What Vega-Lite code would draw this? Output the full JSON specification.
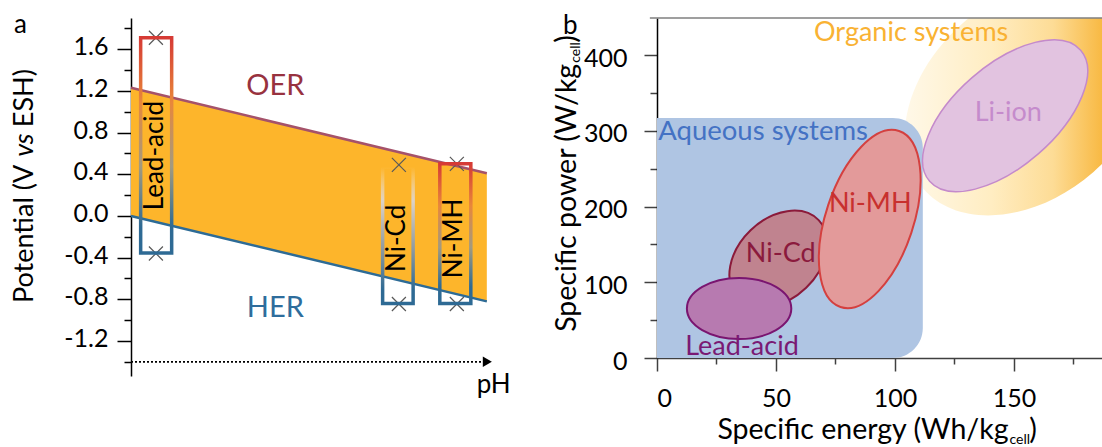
{
  "$schema": "https://vega.github.io/schema/vega-lite/v6.json",
  "padding": {"left": 11, "top": 11, "right": 0, "bottom": 0},
  "bounds": "flush",
  "spacing": 160,
  "resolve": {"scale": {"color": "independent"}},
  "config": {
    "font": "Lato",
    "view": {"stroke": null},
    "axis": {"grid": false, "labelFont": "Lato", "labelFontSize": 25, "labelColor": "#000", "domainColor": "#000", "tickColor": "#000", "domainWidth": 1.5, "tickWidth": 1.5}
  },
  "datasets": {
    "a_band": [{"x": 0, "y": 1.23, "y2": 0}, {"x": 14, "y": 0.41, "y2": -0.82}],
    "a_oer": [{"x": 0, "y": 1.23}, {"x": 14, "y": 0.41}],
    "a_her": [{"x": 0, "y": 0}, {"x": 14, "y": -0.82}],
    "a_marks": [{"x": 0.98, "y": 1.71}, {"x": 0.98, "y": -0.36}, {"x": 10.54, "y": 0.49}, {"x": 10.54, "y": -0.845}, {"x": 12.82, "y": 0.5}, {"x": 12.82, "y": -0.845}],
    "a_boxes": [{"name": "Lead-acid", "x": 0.38, "x2": 1.6, "y": 1.71, "y2": -0.355}, {"name": "Ni-Cd", "x": 9.9, "x2": 11.1, "y": 0.47, "y2": -0.84}, {"name": "Ni-MH", "x": 12.15, "x2": 13.37, "y": 0.5, "y2": -0.84}],
    "a_boxlabels": [{"label": "Lead-acid", "x": 0.95, "y": 0.58}, {"label": "Ni-Cd", "x": 10.45, "y": -0.215}, {"label": "Ni-MH", "x": 12.72, "y": -0.215}],
    "a_reactions": [{"label": "OER", "x": 5.68, "y": 1.243}, {"label": "HER", "x": 5.68, "y": -0.88}],
    "a_axisline": [{"x": 0, "x2": 13.85, "y": -1.4}],
    "a_arrowhead": [{"x": 14.02, "y": -1.4}],
    "a_texts": [{"label": "a", "x": -4.35, "y": 1.833}, {"label": "pH", "x": 14.27, "y": -1.62}],
    "a_title": [{"label": "Potential (V", "part": "start", "x": -3.85, "y": -0.835}, {"label": "vs", "part": "mid", "x": -3.85, "y": 0.68}, {"label": "ESH)", "part": "end", "x": -3.85, "y": 1.41}],
    "b_aq": [{"x": 0, "x2": 111.7, "y": 0, "y2": 316.8}],
    "b_ellipses": [{"name": "Organic systems", "x": 156, "y": 344}, {"name": "Li-ion", "x": 146.3, "y": 319.9}, {"name": "Ni-MH", "x": 89.4, "y": 183.5}, {"name": "Ni-Cd", "x": 51.0, "y": 130.7}, {"name": "Lead-acid", "x": 34.5, "y": 65.3}],
    "b_labels": [{"label": "Organic systems", "x": 106.8, "y": 429.4}, {"label": "Li-ion", "x": 147.6, "y": 324.2}, {"label": "Ni-MH", "x": 89.6, "y": 203.3}, {"label": "Ni-Cd", "x": 52.0, "y": 137.3}, {"label": "Lead-acid", "x": 35.7, "y": 14.9}],
    "b_aqlabel": [{"label": "Aqueous systems", "x": 0.5, "y": 297.8}],
    "b_frame": [{"x": -3, "x2": 187, "y": 449}],
    "b_xtitle": [{"label": "Specific energy (Wh/kg", "part": "main", "x": 147.7, "y": -106.9}, {"label": "cell", "part": "sub", "x": 147.7, "y": -106.9}, {"label": ")", "part": "close", "x": 156.4, "y": -106.9}],
    "b_ytitle": [{"label": "Specific power (W/kg", "part": "main", "x": -33.9, "y": 388.5}, {"label": "cell", "part": "sub", "x": -33.9, "y": 388.5}, {"label": ")", "part": "close", "x": -33.9, "y": 416.2}],
    "b_tag": [{"label": "b", "x": -36.4, "y": 438.7}]
  },
  "hconcat": [
    {
      "width": 366,
      "height": 358,
      "encoding": {
        "x": {"field": "x", "type": "quantitative", "scale": {"domain": [0, 14.4], "nice": false, "zero": false}, "axis": null},
        "y": {"field": "y", "type": "quantitative", "scale": {"domain": [-1.536, 1.9], "nice": false, "zero": false},
          "axis": {"title": null, "values": [-1.4, -1.2, -1.0, -0.8, -0.6, -0.4, -0.2, 0, 0.2, 0.4, 0.6, 0.8, 1.0, 1.2, 1.4, 1.6, 1.8],
            "labelExpr": "(round(datum.value*10) % 4 == 0 && datum.value > -1.3) ? ((datum.value < -0.01 ? '-' : '') + format(abs(datum.value), '.1f')) : ''",
            "tickSize": {"condition": {"test": "round(datum.value*10) % 4 == 0", "value": 14}, "value": 7},
            "labelPadding": 9, "labelOffset": -2.5, "labelBaseline": "middle"}}
      },
      "layer": [
        {"data": {"name": "a_band"}, "mark": {"type": "area", "fill": "#FDB52B", "opacity": 1}, "encoding": {"y2": {"field": "y2"}}},
        {"data": {"name": "a_oer"}, "mark": {"type": "line", "stroke": "#A5526A", "strokeWidth": 2.5}, "encoding": {}},
        {"data": {"name": "a_her"}, "mark": {"type": "line", "stroke": "#2D6B96", "strokeWidth": 2.5}, "encoding": {}},
        {"data": {"name": "a_marks"}, "mark": {"type": "point", "shape": "M -1 -1 L 1 1 M 1 -1 L -1 1", "size": 196, "filled": false, "stroke": "#595959", "strokeWidth": 1.2, "opacity": 1}},
        {"data": {"name": "a_boxes"}, "transform": [{"filter": "datum.name != 'Ni-Cd'"}],
          "mark": {"type": "rect", "fill": null, "filled": false, "strokeWidth": 3.5,
            "stroke": {"gradient": "linear", "x1": 0, "y1": 0, "x2": 0, "y2": 1, "stops": [{"offset": 0, "color": "#D63B35"}, {"offset": 0.3, "color": "#E8873A"}, {"offset": 0.6, "color": "#A29A80"}, {"offset": 0.88, "color": "#2E6A94"}, {"offset": 1, "color": "#2E6A94"}]}},
          "encoding": {"x2": {"field": "x2"}, "y2": {"field": "y2"}}},
        {"data": {"name": "a_boxes"}, "transform": [{"filter": "datum.name == 'Ni-Cd'"}],
          "mark": {"type": "rect", "fill": null, "filled": false, "strokeWidth": 3.5,
            "stroke": {"gradient": "linear", "x1": 0, "y1": 0, "x2": 0, "y2": 1, "stops": [{"offset": 0, "color": "rgba(240,230,220,0)"}, {"offset": 0.25, "color": "#DDD2C6"}, {"offset": 0.6, "color": "#8E9AA2"}, {"offset": 0.9, "color": "#2E6A94"}, {"offset": 1, "color": "#2E6A94"}]}},
          "encoding": {"x2": {"field": "x2"}, "y2": {"field": "y2"}}},
        {"data": {"name": "a_boxlabels"}, "mark": {"type": "text", "angle": 270, "fontSize": 26, "baseline": "middle", "align": "center", "color": "#000"}, "encoding": {"text": {"field": "label"}}},
        {"data": {"name": "a_reactions"}, "mark": {"type": "text", "fontSize": 29, "baseline": "middle", "align": "center"},
          "encoding": {"text": {"field": "label"}, "color": {"field": "label", "type": "nominal", "scale": {"domain": ["OER", "HER"], "range": ["#98323F", "#2E6D9C"]}, "legend": null}}},
        {"data": {"name": "a_axisline"}, "mark": {"type": "rule", "stroke": "#000", "strokeWidth": 1.6, "strokeDash": [2, 2]}, "encoding": {"x2": {"field": "x2"}}},
        {"data": {"name": "a_arrowhead"}, "mark": {"type": "point", "shape": "triangle-right", "size": 110, "filled": true, "fill": "#000", "opacity": 1}},
        {"data": {"name": "a_texts"}, "mark": {"type": "text", "fontSize": 26, "baseline": "middle", "align": "center", "color": "#000"}, "encoding": {"text": {"field": "label"}}},
        {"data": {"name": "a_title"}, "transform": [{"filter": "datum.part == 'start'"}], "mark": {"type": "text", "fontSize": 27, "angle": 270, "align": "left", "baseline": "alphabetic", "color": "#000"}, "encoding": {"text": {"field": "label"}}},
        {"data": {"name": "a_title"}, "transform": [{"filter": "datum.part == 'mid'"}], "mark": {"type": "text", "fontSize": 27, "angle": 270, "align": "center", "baseline": "alphabetic", "fontStyle": "italic", "color": "#000"}, "encoding": {"text": {"field": "label"}}},
        {"data": {"name": "a_title"}, "transform": [{"filter": "datum.part == 'end'"}], "mark": {"type": "text", "fontSize": 27, "angle": 270, "align": "right", "baseline": "alphabetic", "color": "#000"}, "encoding": {"text": {"field": "label"}}}
      ]
    },
    {
      "width": 445,
      "height": 340,
      "encoding": {
        "x": {"field": "x", "type": "quantitative", "scale": {"domain": [0, 187], "nice": false, "zero": false},
          "axis": {"title": null, "values": [0, 25, 50, 75, 100, 125, 150, 175],
            "labelExpr": "datum.value % 50 == 0 ? datum.label : ''",
            "tickSize": {"condition": {"test": "datum.value % 50 == 0", "value": 13}, "value": 6},
            "labelPadding": 15, "domainColor": "#404040", "tickColor": "#404040"}},
        "y": {"field": "y", "type": "quantitative", "scale": {"domain": [0, 449], "nice": false, "zero": false},
          "axis": {"title": null, "values": [0, 50, 100, 150, 200, 250, 300, 350, 400],
            "labelExpr": "datum.value % 100 == 0 ? datum.label : ''",
            "tickSize": {"condition": {"test": "datum.value % 100 == 0", "value": 13}, "value": 7},
            "labelPadding": 17, "labelOffset": 3, "labelBaseline": "middle", "tickColor": "#404040"}}
      },
      "layer": [
        {"data": {"name": "b_ellipses"}, "transform": [{"filter": "datum.name == 'Organic systems'"}],
          "mark": {"type": "point", "clip": true, "size": 40000, "filled": true, "opacity": 1, "strokeWidth": 0,
            "shape": "M -1.049 0.912 A 1.39 0.99 -41 0 1 1.049 -0.912 A 1.39 0.99 -41 0 1 -1.049 0.912 Z",
            "fill": {"gradient": "linear", "x1": 0, "y1": 0, "x2": 1, "y2": 0, "stops": [{"offset": 0, "color": "#FFF8E8"}, {"offset": 0.35, "color": "#FFEDC2"}, {"offset": 0.6, "color": "#FDDC96"}, {"offset": 0.8, "color": "#F8B943"}, {"offset": 1, "color": "#F5A623"}]}}},
        {"data": {"name": "b_aq"}, "mark": {"type": "rect", "fill": "#AFC5E3", "opacity": 1, "cornerRadiusTopRight": 30, "cornerRadiusBottomRight": 30}, "encoding": {"x2": {"field": "x2"}, "y2": {"field": "y2"}}},
        {"data": {"name": "b_ellipses"}, "transform": [{"filter": "datum.name == 'Li-ion'"}],
          "mark": {"type": "point", "size": 40000, "filled": true, "opacity": 1, "fill": "#E2C3E0", "stroke": "#C48ACB", "strokeWidth": 1.5,
            "shape": "M -0.755 0.656 A 1 0.505 -41 0 1 0.755 -0.656 A 1 0.505 -41 0 1 -0.755 0.656 Z"}},
        {"data": {"name": "b_ellipses"}, "transform": [{"filter": "datum.name == 'Ni-Cd'"}],
          "mark": {"type": "point", "size": 40000, "filled": true, "opacity": 1, "fill": "#C0838F", "stroke": "#8B1A3A", "strokeWidth": 2,
            "shape": "M -0.403 0.389 A 0.56 0.40 -44 0 1 0.403 -0.389 A 0.56 0.40 -44 0 1 -0.403 0.389 Z"}},
        {"data": {"name": "b_ellipses"}, "transform": [{"filter": "datum.name == 'Lead-acid'"}],
          "mark": {"type": "point", "size": 40000, "filled": true, "opacity": 1, "fill": "#B77AB0", "stroke": "#7A1570", "strokeWidth": 2,
            "shape": "M -0.522 0 A 0.522 0.305 0 0 1 0.522 0 A 0.522 0.305 0 0 1 -0.522 0 Z"}},
        {"data": {"name": "b_ellipses"}, "transform": [{"filter": "datum.name == 'Ni-MH'"}],
          "mark": {"type": "point", "size": 40000, "filled": true, "opacity": 1, "fill": "#E39A9A", "stroke": "#D4403F", "strokeWidth": 2,
            "shape": "M -0.293 0.880 A 0.927 0.438 -71.6 0 1 0.293 -0.880 A 0.927 0.438 -71.6 0 1 -0.293 0.880 Z"}},
        {"data": {"name": "b_labels"}, "mark": {"type": "text", "fontSize": 27, "baseline": "middle", "align": "center"},
          "encoding": {"text": {"field": "label"}, "color": {"field": "label", "type": "nominal", "scale": {"domain": ["Organic systems", "Li-ion", "Ni-MH", "Ni-Cd", "Lead-acid"], "range": ["#F9B233", "#C58BCC", "#C8302E", "#8B1A3D", "#7A1A74"]}, "legend": null}}},
        {"data": {"name": "b_aqlabel"}, "mark": {"type": "text", "fontSize": 27.5, "baseline": "middle", "align": "left", "color": "#4472C4"}, "encoding": {"text": {"field": "label"}}},
        {"data": {"name": "b_frame"}, "mark": {"type": "rule", "stroke": "#7F7F7F", "strokeWidth": 1.5}, "encoding": {"x2": {"field": "x2"}}},
        {"data": {"name": "b_xtitle"}, "transform": [{"filter": "datum.part == 'main'"}], "mark": {"type": "text", "fontSize": 28.5, "align": "right", "baseline": "alphabetic", "color": "#000"}, "encoding": {"text": {"field": "label"}}},
        {"data": {"name": "b_xtitle"}, "transform": [{"filter": "datum.part == 'sub'"}], "mark": {"type": "text", "fontSize": 14, "align": "left", "baseline": "alphabetic", "dy": 5, "dx": 1, "color": "#000"}, "encoding": {"text": {"field": "label"}}},
        {"data": {"name": "b_xtitle"}, "transform": [{"filter": "datum.part == 'close'"}], "mark": {"type": "text", "fontSize": 28.5, "align": "left", "baseline": "alphabetic", "color": "#000"}, "encoding": {"text": {"field": "label"}}},
        {"data": {"name": "b_ytitle"}, "transform": [{"filter": "datum.part == 'main'"}], "mark": {"type": "text", "fontSize": 28.5, "angle": 270, "align": "right", "baseline": "alphabetic", "color": "#000"}, "encoding": {"text": {"field": "label"}}},
        {"data": {"name": "b_ytitle"}, "transform": [{"filter": "datum.part == 'sub'"}], "mark": {"type": "text", "fontSize": 14, "angle": 270, "align": "left", "baseline": "alphabetic", "dy": 4, "dx": 1, "color": "#000"}, "encoding": {"text": {"field": "label"}}},
        {"data": {"name": "b_ytitle"}, "transform": [{"filter": "datum.part == 'close'"}], "mark": {"type": "text", "fontSize": 28.5, "angle": 270, "align": "left", "baseline": "alphabetic", "color": "#000"}, "encoding": {"text": {"field": "label"}}},
        {"data": {"name": "b_tag"}, "mark": {"type": "text", "fontSize": 26, "baseline": "middle", "align": "center", "color": "#000"}, "encoding": {"text": {"field": "label"}}}
      ]
    }
  ]
}
